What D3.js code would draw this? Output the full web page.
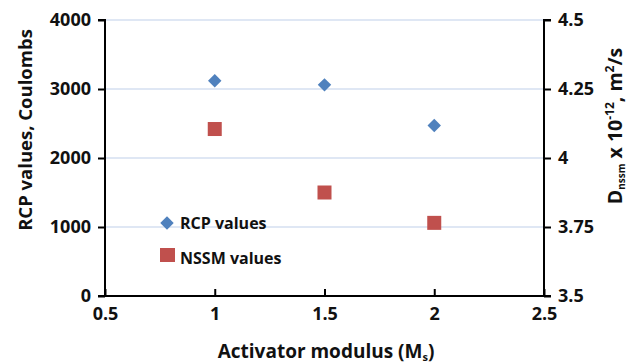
<!DOCTYPE html>
<html>
<head>
<meta charset="utf-8">
<script src="https://cdn.jsdelivr.net/npm/d3@7"></script>
<style>
  html, body { margin: 0; padding: 0; background: #fff; }
  svg { display: block; font-family: "Open Sans", Lato, sans-serif; font-weight: bold; }
</style>
</head>
<body>
<svg id="chart" width="630" height="363"></svg>
<script>
// Activator modulus values tested
const modulus = [1, 1.5, 2];
// Rapid chloride permeability (Coulombs)
const rcpValues = [3120, 3060, 2470];
// Non-steady-state migration coefficient (x 10^-12 m²/s)
const nssmValues = [4.105, 3.875, 3.765];

const xTicks = [0.5, 1, 1.5, 2, 2.5];
const yLeftTicks = [0, 1000, 2000, 3000, 4000];
const yRightTicks = [3.5, 3.75, 4, 4.25, 4.5];

const svg = d3.select("#chart");
const plotLeft = 105, plotRight = 544, plotTop = 20, plotBottom = 296;

const x = d3.scaleLinear().domain([0.5, 2.5]).range([plotLeft, plotRight]);
const yL = d3.scaleLinear().domain([0, 4000]).range([plotBottom, plotTop]);
const yR = d3.scaleLinear().domain([3.5, 4.5]).range([plotBottom, plotTop]);

// horizontal gridlines
svg.append("g")
  .selectAll("line")
  .data(yLeftTicks.filter(d => d > 0))
  .join("line")
  .attr("x1", plotLeft).attr("x2", plotRight)
  .attr("y1", d => yL(d)).attr("y2", d => yL(d))
  .attr("stroke", "#d5dff0").attr("stroke-width", 1.5);

const fontSize = 18;
const font = "'Open Sans', sans-serif";

// left axis
const gL = svg.append("g").attr("transform", `translate(${plotLeft},0)`)
  .call(d3.axisLeft(yL).tickValues(yLeftTicks).tickFormat(d3.format("d")).tickSize(7).tickPadding(7));
// right axis
const gR = svg.append("g").attr("transform", `translate(${plotRight},0)`)
  .call(d3.axisRight(yR).tickValues(yRightTicks).tickFormat(d => String(d)).tickSize(7).tickPadding(7));
// bottom axis, ticks pointing into the plot
const gB = svg.append("g").attr("transform", `translate(0,${plotBottom})`)
  .call(d3.axisBottom(x).tickValues(xTicks).tickFormat(d => String(d)).tickSizeInner(-7).tickSizeOuter(0).tickPadding(11));

[gL, gR, gB].forEach(g => {
  g.select(".domain").attr("stroke", "#000").attr("stroke-width", 2);
  g.selectAll(".tick line").attr("stroke", "#000").attr("stroke-width", 2);
  g.selectAll(".tick text").attr("fill", "#111").style("font-size", fontSize + "px")
    .style("font-family", font).style("font-weight", "bold");
});
gL.select(".domain").attr("d", `M-7,${plotTop}H0V${plotBottom}H-7`);
gR.select(".domain").attr("d", `M7,${plotTop}H0V${plotBottom}H7`);
gB.select(".domain").attr("d", `M${plotLeft},0H${plotRight}`);

// RCP markers (diamonds)
svg.append("g")
  .selectAll("path")
  .data(modulus.map((m, i) => [m, rcpValues[i]]))
  .join("path")
  .attr("transform", d => `translate(${x(d[0])},${yL(d[1])})`)
  .attr("d", d3.symbol(d3.symbolDiamond2, 115)())
  .attr("fill", "#4f81bd");

// NSSM markers (squares)
svg.append("g")
  .selectAll("rect")
  .data(modulus.map((m, i) => [m, nssmValues[i]]))
  .join("rect")
  .attr("x", d => x(d[0]) - 7).attr("y", d => yR(d[1]) - 7)
  .attr("width", 14).attr("height", 14)
  .attr("fill", "#c0504d");

// legend
const legend = svg.append("g");
legend.append("path")
  .attr("transform", "translate(167,223)")
  .attr("d", d3.symbol(d3.symbolDiamond2, 115)())
  .attr("fill", "#4f81bd");
legend.append("text").attr("x", 180).attr("y", 229)
  .style("font-size", "16px").attr("fill", "#111").text("RCP values");
legend.append("rect").attr("x", 160).attr("y", 248).attr("width", 15).attr("height", 14)
  .attr("fill", "#c0504d");
legend.append("text").attr("x", 180).attr("y", 263.5)
  .style("font-size", "16px").attr("fill", "#111").text("NSSM values");

// axis titles
svg.append("text")
  .attr("transform", "translate(32,130) rotate(-90)")
  .attr("text-anchor", "middle").style("font-size", "18.5px").attr("fill", "#111")
  .text("RCP values, Coulombs");

const xt = svg.append("text")
  .attr("x", 326).attr("y", 358)
  .attr("text-anchor", "middle").style("font-size", "19px").attr("fill", "#111");
xt.append("tspan").text("Activator modulus (M");
xt.append("tspan").attr("dy", 3).style("font-size", "11px").text("s");
xt.append("tspan").attr("dy", -3).text(")");

const rt = svg.append("text")
  .attr("transform", "translate(622,126) rotate(-90)")
  .attr("text-anchor", "middle").style("font-size", "19.5px").attr("fill", "#111");
rt.append("tspan").text("D");
rt.append("tspan").attr("dy", 3).style("font-size", "10px").text("nssm");
rt.append("tspan").attr("dy", -3).text(" x 10");
rt.append("tspan").attr("dy", -8).style("font-size", "12px").text("-12");
rt.append("tspan").attr("dy", 8).text(", m");
rt.append("tspan").attr("dy", -8).style("font-size", "12px").text("2");
rt.append("tspan").attr("dy", 8).text("/s");
</script>
</body>
</html>
